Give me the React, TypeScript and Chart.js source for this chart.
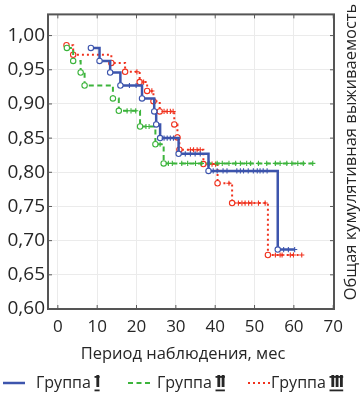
import React, { useEffect, useRef } from "react";
import { Chart, registerables } from "chart.js";
Chart.register(...registerables);

const FONT = "'Open Sans', 'DejaVu Sans', sans-serif";

const xTicks = [0, 10, 20, 30, 40, 50, 60, 70];
const yTicks = [0.6, 0.65, 0.7, 0.75, 0.8, 0.85, 0.9, 0.95, 1.0];

const groupNames = ["Группа", "Группа", "Группа"];
const groupNumerals = ["Ⅰ", "Ⅱ", "Ⅲ"];
const groupLabels = groupNames.map((n, i) => `${n} ${groupNumerals[i]}`);
const groupColors = ["#3d55ad", "#3cb43c", "#f0321e"];
const xTitle = "Период наблюдения, мес";
const yTitle = "Общая кумулятивная выживаемость";

// Group I
const g1EventTime = [8.4, 10.6, 13.3, 15.9, 21.4, 24.5, 25.0, 26.0, 30.7, 38.3, 55.9];
const g1EventSurv = [0.982, 0.963, 0.946, 0.927, 0.908, 0.889, 0.87, 0.85, 0.827, 0.802, 0.687];
const g1CensorTime = [18.2, 19.9, 27.0, 27.8, 28.6, 29.4, 32.4, 33.7, 34.9, 36.2, 39.5, 40.5, 42.0, 43.0, 45.5, 46.4, 47.2, 48.4, 49.7, 50.7, 51.4, 52.2, 53.2, 57.4, 58.6, 60.2];

// Group II
const g2EventTime = [2.3, 3.9, 5.8, 6.8, 14.0, 15.5, 20.9, 24.8, 26.9];
const g2EventSurv = [0.982, 0.963, 0.946, 0.927, 0.908, 0.89, 0.867, 0.841, 0.813];
const g2CensorTime = [17.6, 18.6, 19.8, 22.4, 23.2, 26.0, 28.1, 29.1, 31.5, 33.0, 35.0, 36.5, 38.5, 40.5, 41.8, 43.5, 45.2, 46.4, 48.0, 49.0, 51.0, 53.1, 55.3, 56.5, 58.2, 59.5, 61.0, 62.4, 64.8];

// Group III
const g3EventTime = [2.2, 3.9, 13.6, 17.1, 20.8, 22.7, 24.3, 25.9, 29.6, 30.4, 30.9, 37.0, 40.6, 44.3, 53.4];
const g3EventSurv = [0.986, 0.972, 0.96, 0.947, 0.932, 0.919, 0.904, 0.889, 0.87, 0.851, 0.833, 0.812, 0.784, 0.755, 0.679];
const g3CensorTime = [20.1, 21.8, 23.9, 27.0, 27.8, 28.6, 29.3, 33.7, 34.5, 35.4, 36.2, 38.2, 39.2, 40.1, 43.5, 45.9, 46.8, 47.6, 48.5, 49.3, 51.0, 52.7, 55.3, 56.5, 57.0, 59.1, 59.9, 62.0];

type Pt = { x: number; y: number; c: boolean };

function buildSeries(evT: number[], evS: number[], cT: number[]): Pt[] {
  const pts: Pt[] = [];
  evT.forEach((t, i) => pts.push({ x: t, y: evS[i], c: false }));
  cT.forEach((t) => {
    let s = evS[0];
    for (let i = 0; i < evT.length; i++) if (evT[i] <= t) s = evS[i];
    pts.push({ x: t, y: s, c: true });
  });
  pts.sort((a, b) => a.x - b.x);
  return pts;
}

const series = [
  buildSeries(g1EventTime, g1EventSurv, g1CensorTime),
  buildSeries(g2EventTime, g2EventSurv, g2CensorTime),
  buildSeries(g3EventTime, g3EventSurv, g3CensorTime),
];
const dashes = [[], [5, 3.5], [2, 3]];
const widths = [2.5, 2, 2];

export default function App() {
  const ref = useRef<HTMLCanvasElement>(null);
  useEffect(() => {
    if (!ref.current) return;
    const decor = {
      id: "decor",
      beforeDatasetsDraw(chart: any) {
        const { ctx, chartArea: a, scales } = chart;
        ctx.save();
        ctx.strokeStyle = "#5a5a5a";
        ctx.lineWidth = 1;
        xTicks.forEach((v) => {
          const px = scales.x.getPixelForValue(v);
          ctx.beginPath();
          ctx.moveTo(px, a.bottom);
          ctx.lineTo(px, a.bottom - 4);
          ctx.moveTo(px, a.top);
          ctx.lineTo(px, a.top + 4);
          ctx.stroke();
        });
        yTicks.forEach((v) => {
          const py = scales.y.getPixelForValue(v);
          ctx.beginPath();
          ctx.moveTo(a.left, py);
          ctx.lineTo(a.left + 4, py);
          ctx.moveTo(a.right, py);
          ctx.lineTo(a.right - 4, py);
          ctx.stroke();
        });
        ctx.lineWidth = 2;
        ctx.strokeStyle = "#555";
        ctx.strokeRect(a.left, a.top, a.right - a.left, a.bottom - a.top);
        ctx.restore();
      },
      afterDraw(chart: any) {
        const { ctx } = chart;
        ctx.save();
        ctx.fillStyle = "#262626";
        ctx.textBaseline = "middle";
        ctx.textAlign = "center";
        ctx.font = `16.5px ${FONT}`;
        ctx.fillText(xTitle, 183, 354);
        ctx.save();
        ctx.translate(351, 152);
        ctx.rotate(-Math.PI / 2);
        ctx.fillText(yTitle, 0, 0);
        ctx.restore();
        // legend
        const lx = [3, 128, 248];
        const tx = [36, 157, 271];
        const ly = 383;
        ctx.textAlign = "left";
        for (let i = 0; i < 3; i++) {
          ctx.save();
          ctx.strokeStyle = groupColors[i];
          ctx.lineWidth = widths[i];
          ctx.setLineDash(dashes[i]);
          ctx.beginPath();
          ctx.moveTo(lx[i], ly);
          ctx.lineTo(lx[i] + 22, ly);
          ctx.stroke();
          ctx.restore();
          ctx.font = `16px ${FONT}`;
          ctx.fillText(groupNames[i], tx[i], ly);
          const w = ctx.measureText(groupNames[i] + " ").width;
          ctx.font = `bold 15px 'Noto Sans', 'DejaVu Sans', sans-serif`;
          const nx = tx[i] + w;
          ctx.fillText(groupNumerals[i], nx, ly);
          const nw = ctx.measureText(groupNumerals[i]).width;
          // over/under bars of the roman numeral
          ctx.fillRect(nx - 0.5, ly - 7, nw - 0.5, 1.8);
          ctx.fillRect(nx - 0.5, ly + 6.5, nw - 0.5, 1.8);
        }
        ctx.restore();
      },
    };
    const chart = new Chart(ref.current, {
      type: "line",
      data: {
        datasets: series.map((pts, i) => ({
          label: groupLabels[i],
          data: pts.map((p) => ({ x: p.x, y: p.y })),
          borderColor: groupColors[i],
          borderWidth: widths[i],
          borderDash: dashes[i],
          stepped: "before" as const,
          fill: false,
          pointStyle: pts.map((p) => (p.c ? "cross" : "circle")) as any,
          pointRadius: pts.map((p) => (p.c ? 2.6 : 2.7)),
          pointBackgroundColor: "#ffffff",
          pointBorderColor: groupColors[i],
          pointBorderWidth: 1.1,
        })),
      },
      plugins: [decor],
      options: {
        responsive: false,
        animation: false,
        layout: { padding: { top: 13, right: 26, left: 0, bottom: 0 } },
        plugins: { legend: { display: false }, tooltip: { enabled: false } },
        scales: {
          x: {
            type: "linear",
            min: -2.5,
            max: 70.2,
            afterFit: (s: any) => { s.height = 91; },
            afterBuildTicks: (s: any) => { s.ticks = xTicks.map((v) => ({ value: v })); },
            grid: { color: "#ebebeb", drawTicks: false },
            border: { display: false },
            ticks: { padding: 8, color: "#262626", font: { family: FONT, size: 17 }, maxRotation: 0 },
          },
          y: {
            type: "linear",
            min: 0.6,
            max: 1.031,
            afterFit: (s: any) => { s.width = 48; },
            afterBuildTicks: (s: any) => { s.ticks = yTicks.map((v) => ({ value: v })); },
            grid: { color: "#ebebeb", drawTicks: false },
            border: { display: false },
            ticks: {
              padding: 3,
              color: "#262626",
              font: { family: FONT, size: 19 },
              callback: (v: any) => Number(v).toFixed(2).replace(".", ","),
            },
          },
        },
      },
    });
    return () => chart.destroy();
  }, []);
  return (
    <div style={{ position: "absolute", left: 0, top: 0, width: 360, height: 400, background: "#fff" }}>
      <canvas ref={ref} width={360} height={400} style={{ display: "block" }} />
    </div>
  );
}
